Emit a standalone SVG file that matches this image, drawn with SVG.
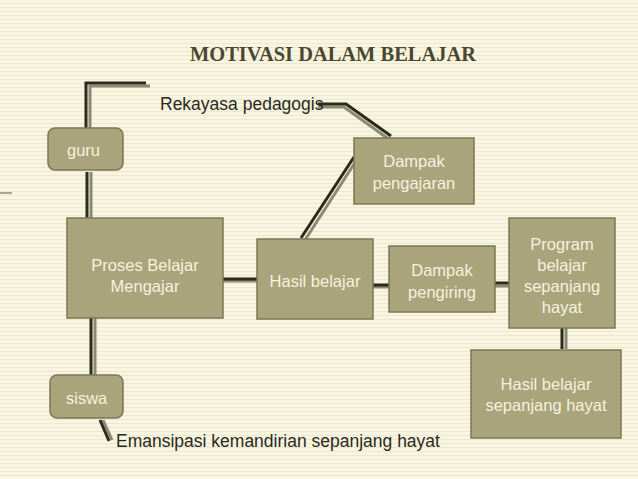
<svg xmlns="http://www.w3.org/2000/svg" width="638" height="479" viewBox="0 0 638 479">
<defs>
<pattern id="bg" width="8" height="4" patternUnits="userSpaceOnUse"><rect width="8" height="4" fill="#f8f5e1"/><rect y="3" width="8" height="1" fill="#ece8cf"/></pattern>
</defs>
<style>
.box{fill:#a9a47b;stroke:#7b7756;stroke-width:1.5}
.bt{font-family:"Liberation Sans",Arial,sans-serif;font-size:16.5px;fill:#f5f2de;text-anchor:middle}
.lt{font-family:"Liberation Sans",Arial,sans-serif;font-size:17.5px;fill:#2a2a22}
.d{fill:none;stroke:#2b2a1f;stroke-width:3}
.g{fill:none;stroke:#8c8972;stroke-width:3}
</style>
<rect width="638" height="479" fill="url(#bg)"/>
<line x1="0" y1="193" x2="12" y2="193" stroke="#555" stroke-width="1"/>
<text x="333" y="61" font-family="Liberation Serif,serif" font-weight="bold" font-size="20" fill="#4a4630" text-anchor="middle" textLength="286" lengthAdjust="spacingAndGlyphs">MOTIVASI DALAM BELAJAR</text>
<g id="connectors">
<path class="g" d="M90 128V86H150"/><path class="d" d="M86 128V83H146"/>
<path class="g" d="M318 107H344L390 140"/><path class="d" d="M318 104H346L391 136"/>
<path class="g" d="M91 172V218"/><path class="d" d="M87 172V218"/>
<path class="g" d="M356 161L305 240"/><path class="d" d="M354 157L301 238"/>
<path class="g" d="M223 281H257"/><path class="d" d="M223 279H257"/>
<path class="g" d="M373 287H389"/><path class="d" d="M373 285H389"/>
<path class="g" d="M495 286H509"/><path class="d" d="M495 283H509"/>
<path class="g" d="M566 328V349"/><path class="d" d="M562 328V349"/>
<path class="g" d="M95 318V375"/><path class="d" d="M91 318V375"/>
<path class="g" d="M103 420L112 440"/><path class="d" d="M100 420L109 441"/>
</g>
<g id="guru"><rect class="box" x="48" y="128" width="75" height="42" rx="7"/><text class="bt" x="67" y="156" style="text-anchor:start">guru</text></g>
<g id="rekayasa"><text class="lt" x="160" y="110">Rekayasa pedagogis</text></g>
<g id="dampak-pengajaran"><rect class="box" x="354" y="138" width="120" height="66"/><text class="bt" x="414" y="167">Dampak</text><text class="bt" x="414" y="189">pengajaran</text></g>
<g id="proses"><rect class="box" x="67" y="218" width="156" height="100"/><text class="bt" x="145" y="271">Proses Belajar</text><text class="bt" x="145" y="292">Mengajar</text></g>
<g id="hasil"><rect class="box" x="257" y="239" width="116" height="80"/><text class="bt" x="315" y="287">Hasil belajar</text></g>
<g id="pengiring"><rect class="box" x="389" y="246" width="106" height="66"/><text class="bt" x="442" y="276">Dampak</text><text class="bt" x="442" y="298">pengiring</text></g>
<g id="program"><rect class="box" x="509" y="218" width="106" height="110"/><text class="bt" x="562" y="250">Program</text><text class="bt" x="562" y="271">belajar</text><text class="bt" x="562" y="292">sepanjang</text><text class="bt" x="562" y="313">hayat</text></g>
<g id="hbsh"><rect class="box" x="471" y="350" width="150" height="88"/><text class="bt" x="546" y="390">Hasil belajar</text><text class="bt" x="546" y="411">sepanjang hayat</text></g>
<g id="siswa"><rect class="box" x="50" y="375" width="73" height="43" rx="7"/><text class="bt" x="66" y="404" style="text-anchor:start">siswa</text></g>
<g id="emansipasi"><text class="lt" x="116" y="447">Emansipasi kemandirian sepanjang hayat</text></g>
</svg>
